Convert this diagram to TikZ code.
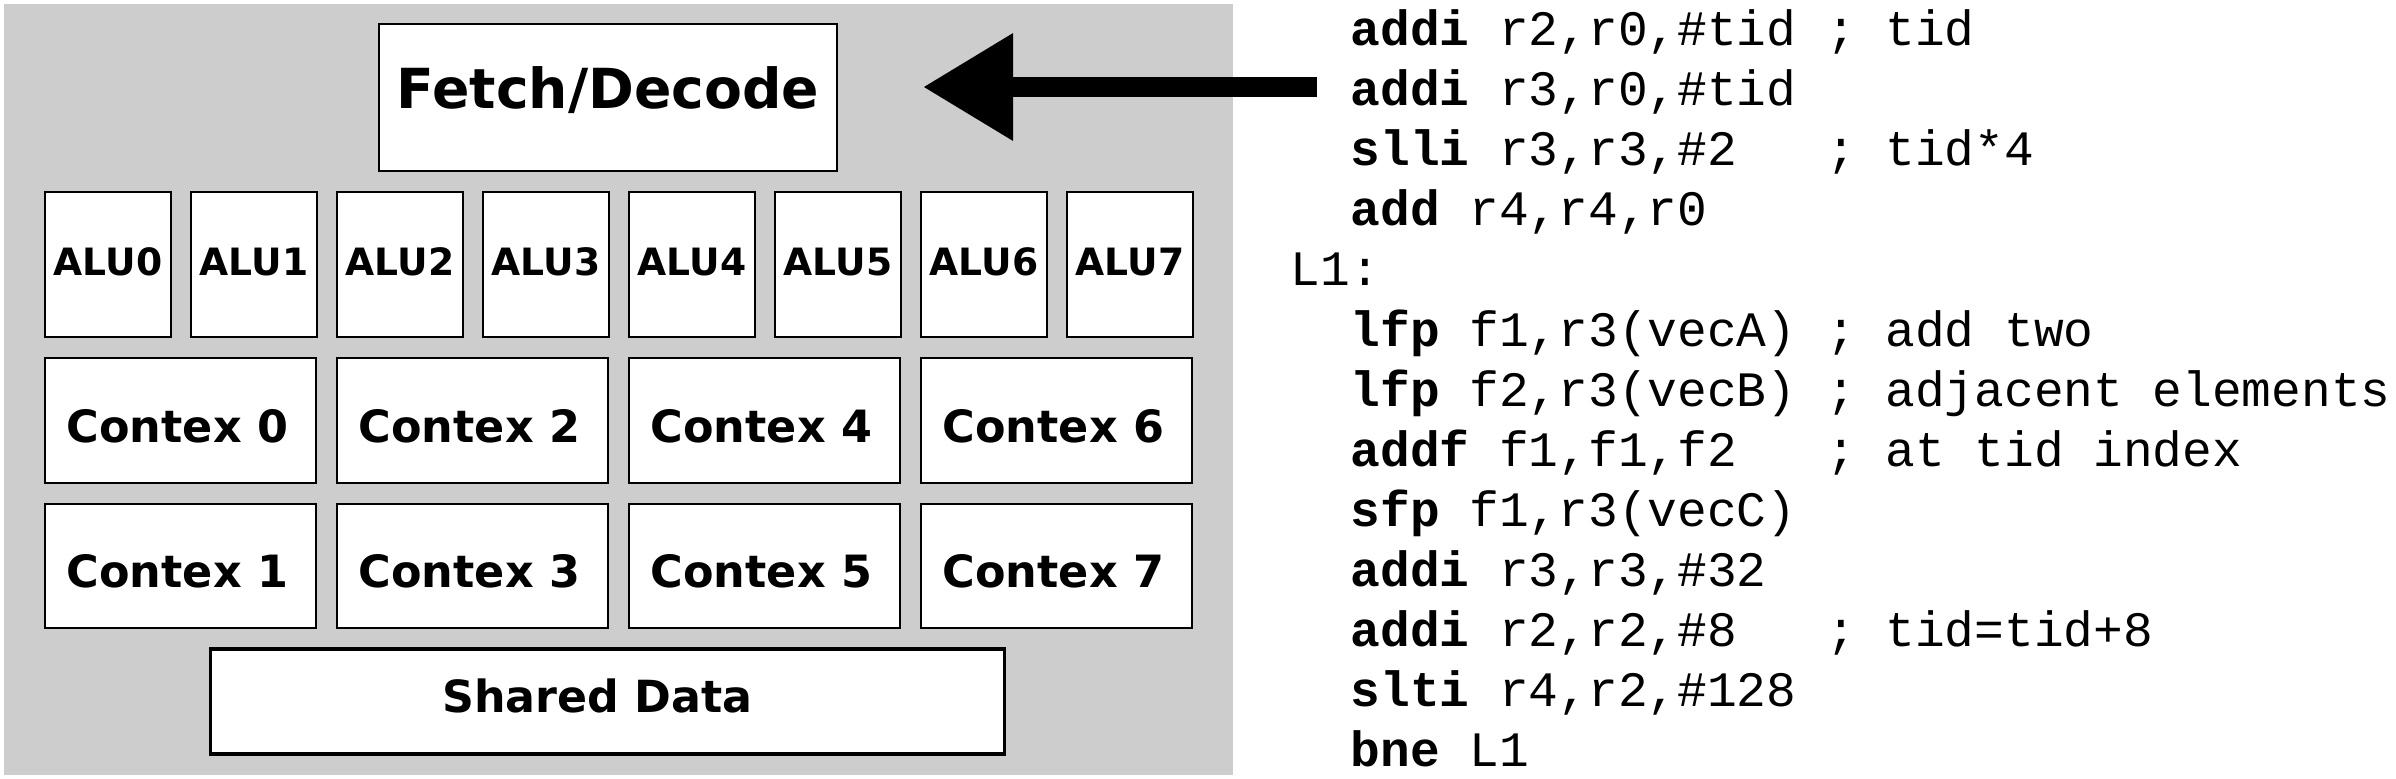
\documentclass[tikz,border=0pt]{standalone}
\usepackage{fontspec}
\setsansfont{DejaVu Sans}
\setmonofont{Liberation Mono}
\usetikzlibrary{arrows.meta}
\definecolor{panelgray}{RGB}{205,205,205}
\tikzset{
  box/.style={draw=black, fill=white, line width=0.6pt, inner sep=0pt, rectangle},
  alubox/.style={box, minimum width=1.26cm, minimum height=1.45cm,
    font=\sffamily\bfseries\fontsize{10.7pt}{12pt}\selectfont, text height=0.21cm, text depth=0pt},
  ctxbox/.style={box, minimum width=2.71cm, minimum height=1.245cm,
    font=\sffamily\bfseries\fontsize{12.65pt}{14pt}\selectfont, text height=0.43cm, text depth=0pt},
  codeline/.style={anchor=base west, inner sep=0pt,
    font=\ttfamily\frenchspacing\fontsize{14.08pt}{17pt}\selectfont},
  bigarrow/.style={line width=0.2cm, -{Triangle[length=0.9cm, width=1.02cm]}}
}
\begin{document}
\begin{tikzpicture}[x=0.01cm, y=-0.01cm]
\useasboundingbox (0,0) rectangle (2396,778);
\node[fill=panelgray, inner sep=0pt, minimum width=12.29cm, minimum height=7.71cm] (panel) at (618.5,389.5) {};
% Fetch/Decode
\node[box, line width=0.75pt, minimum width=4.58cm, minimum height=1.47cm,
  font=\sffamily\bfseries\fontsize{15.7pt}{18pt}\selectfont, text height=0.21cm, text depth=0pt] (fd) at (608,97.5) {Fetch/Decode};
% ALUs
\foreach \i/\x in {0/45,1/191,2/337,3/483,4/629,5/775,6/921,7/1067}{
  \node[alubox] (alu\i) at (\x+63,264.5) {ALU\i};
}
% Contexts
\foreach \i/\x in {0/45,2/337,4/629,6/921}{
  \node[ctxbox] (ctx\i) at (\x+135.5,420.5) {\hspace*{-0.06cm}Contex \i};
}
\foreach \i/\x in {1/45,3/337,5/629,7/921}{
  \node[ctxbox] (ctx\i) at (\x+135.5,566) {\hspace*{-0.06cm}Contex \i};
}
% Shared data
\node[box, line width=0.95pt, minimum width=7.93cm, minimum height=1.05cm,
  font=\sffamily\bfseries\fontsize{12.6pt}{14pt}\selectfont, text height=0.21cm, text depth=0pt] (sd) at (607.5,701.5) {\hspace*{-0.2cm}Shared Data};
% Arrow
\coordinate (atail) at (1317,87);
\coordinate (atip) at (923,87);
\draw[bigarrow] (atail) -- (atip);
% Code
\node[codeline] (c1) at (1350,45.5) {\textbf{addi} r2,r0,\#tid ; tid};
\node[codeline] (c2) at (1350,105.6) {\textbf{addi} r3,r0,\#tid};
\node[codeline] (c3) at (1350,165.7) {\textbf{slli} r3,r3,\#2\ \ \ ; tid*4};
\node[codeline] (c4) at (1350,225.8) {\textbf{add} r4,r4,r0};
\node[codeline] (c5) at (1290,285.9) {L1:};
\node[codeline] (c6) at (1350,346) {\textbf{lfp} f1,r3(vecA) ; add two};
\node[codeline] (c7) at (1350,406.1) {\textbf{lfp} f2,r3(vecB) ; adjacent elements};
\node[codeline] (c8) at (1350,466.2) {\textbf{addf} f1,f1,f2\ \ \ ; at tid index};
\node[codeline] (c9) at (1350,526.3) {\textbf{sfp} f1,r3(vecC)};
\node[codeline] (c10) at (1350,586.4) {\textbf{addi} r3,r3,\#32};
\node[codeline] (c11) at (1350,646.5) {\textbf{addi} r2,r2,\#8\ \ \ ; tid=tid+8};
\node[codeline] (c12) at (1350,706.6) {\textbf{slti} r4,r2,\#128};
\node[codeline] (c13) at (1350,766.7) {\textbf{bne} L1};
\end{tikzpicture}
\end{document}
